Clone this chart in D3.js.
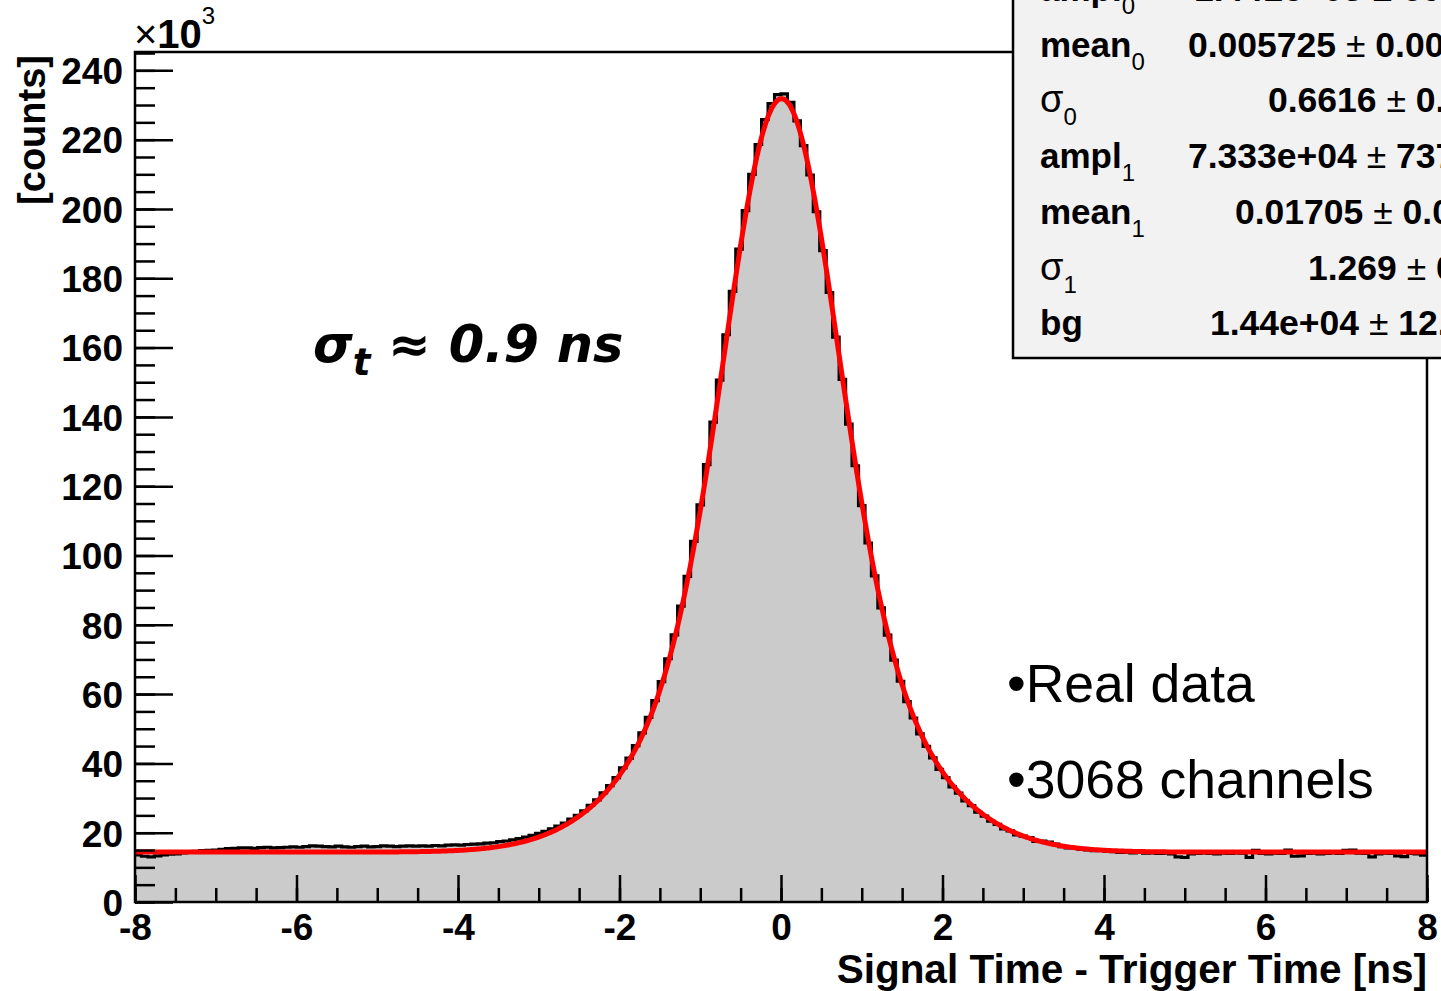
<!DOCTYPE html>
<html>
<head>
<meta charset="utf-8">
<script src="https://cdn.jsdelivr.net/npm/d3@7"></script>
<style>
  body { margin: 0; background: #fff; }
  svg { display: block; }
</style>
</head>
<body>
<script>
var w = 1441;
var h = 991;

// histogram: 200 bins from -8 to 8 ns, counts in units of 10^3
var xMin = -8, xMax = 8;
var counts = [
  13.6, 13.2, 13.0, 13.3, 13.6, 13.8, 13.9, 14.2, 14.4, 14.6,
  14.8, 14.9, 15.0, 15.2, 15.4, 15.5, 15.6, 15.6, 15.5, 15.7,
  15.8, 15.6, 15.7, 15.8, 15.9, 15.8, 16.0, 16.2, 16.1, 16.0,
  15.9, 16.1, 15.9, 15.8, 16.0, 16.1, 15.9, 16.0, 16.2, 16.1,
  16.0, 16.1, 16.2, 16.1, 16.2, 16.1, 16.3, 16.2, 16.4, 16.5,
  16.4, 16.6, 16.7, 16.8, 17.0, 17.1, 17.4, 17.6, 17.9, 18.3,
  18.7, 19.2, 19.8, 20.4, 21.1, 21.9, 22.8, 23.9, 25.0, 26.3,
  27.9, 29.5, 31.5, 33.6, 35.9, 38.7, 41.5, 45.1, 48.8, 53.3,
  58.1, 63.6, 70.2, 77.1, 85.4, 94.0, 104.1, 114.6, 126.2, 138.5,
  150.6, 163.7, 176.2, 188.4, 199.5, 210.0, 218.6, 225.8, 230.4, 233.0,
  233.2, 230.8, 225.4, 218.3, 209.8, 199.2, 188.0, 175.9, 163.0, 150.8,
  137.9, 125.9, 114.4, 103.6, 94.1, 84.9, 77.0, 69.8, 63.7, 57.8,
  53.1, 48.5, 44.9, 41.6, 38.3, 35.9, 33.2, 31.4, 29.2, 27.8,
  25.9, 24.8, 23.3, 22.4, 21.1, 20.5, 19.4, 19.0, 18.6, 17.5,
  17.6, 17.3, 16.7, 16.0, 15.6, 15.7, 15.2, 15.0, 14.8, 14.9,
  14.6, 14.5, 14.3, 14.4, 14.2, 14.3, 14.1, 14.2, 14.0, 14.1,
  13.9, 13.0, 12.9, 13.9, 14.0, 14.2, 14.0, 13.9, 14.1, 14.0,
  14.2, 14.1, 12.9, 14.9, 14.0, 13.9, 14.1, 14.0, 15.0, 13.2,
  13.3, 14.0, 14.1, 13.9, 14.0, 14.2, 14.0, 14.9, 15.0, 14.1,
  14.0, 13.0, 13.9, 14.1, 14.0, 13.3, 13.1, 14.0, 13.9, 13.5
];

// fit parameters from the stats box (amplitudes in 10^3)
var fitAmpl = [144.1, 73.33];
var fitMean = [0.005725, 0.01705];
var fitSigma = [0.6616, 1.269];
var fitBg = 14.4;

var xTicks = [-8, -6, -4, -2, 0, 2, 4, 6, 8];
var yTicks = [0, 20, 40, 60, 80, 100, 120, 140, 160, 180, 200, 220, 240];

var statNames = ["ampl", "mean", "\u03c3", "ampl", "mean", "\u03c3", "bg"];
var statSubs = ["0", "0", "0", "1", "1", "1", ""];
var statVals = ["1.441e+05", "0.005725", "0.6616", "7.333e+04", "0.01705", "1.269", "1.44e+04"];
var statErrs = ["692", "0.00093", "0.0021", "737", "0.0037", "0.004", "12.5"];

// layout
var pL = 135, pR = 1427, pT = 52, pB = 902;
var statX = [1194, 1188, 1268, 1188, 1235, 1308, 1210];

var svg = d3.select("body").append("svg")
  .attr("width", w)
  .attr("height", h);

var xScale = d3.scaleLinear().domain([xMin, xMax]).range([pL, pR]);
var yScale = d3.scaleLinear().domain([0, 245.3]).range([pB, pT]);

var nb = counts.length;
var bw = (xMax - xMin) / nb;
var stepPts = [];
counts.forEach(function(v, i) {
  stepPts.push([xMin + i * bw, v]);
  stepPts.push([xMin + (i + 1) * bw, v]);
});

var plot = svg.append("g");

// gray fill
plot.append("path")
  .datum(stepPts)
  .attr("fill", "#cbcbcb")
  .attr("d", d3.area()
    .x(function(d) { return xScale(d[0]); })
    .y0(yScale(0))
    .y1(function(d) { return yScale(d[1]); }));

// black step outline
plot.append("path")
  .datum(stepPts)
  .attr("fill", "none")
  .attr("stroke", "#000")
  .attr("stroke-width", 3.2)
  .attr("d", d3.line()
    .x(function(d) { return xScale(d[0]); })
    .y(function(d) { return yScale(d[1]); }));

// red fit curve
function fitFn(x) {
  var s = fitBg;
  for (var j = 0; j < 2; j++) {
    var z = (x - fitMean[j]) / fitSigma[j];
    s += fitAmpl[j] * Math.exp(-0.5 * z * z);
  }
  return s;
}
var fitX = d3.range(xMin, xMax + 0.001, 0.02);
plot.append("path")
  .datum(fitX)
  .attr("fill", "none")
  .attr("stroke", "#ff0000")
  .attr("stroke-width", 5)
  .attr("stroke-linejoin", "round")
  .attr("d", d3.line()
    .x(function(d) { return xScale(d); })
    .y(function(d) { return yScale(fitFn(d)); }));

// axes (ticks inside the frame, like ROOT)
var fontMain = "'Liberation Sans', Arial, Helvetica, sans-serif";
var plain = function(d) { return String(d); };

var yMinor = d3.range(0, 245.1, 5);
svg.append("g")
  .attr("transform", "translate(" + pL + ",0)")
  .call(d3.axisLeft(yScale).tickValues(yMinor).tickSize(-20).tickFormat(""))
  .call(function(g) { g.select(".domain").remove(); g.selectAll("line").attr("stroke-width", 2.5); });
svg.append("g")
  .attr("transform", "translate(" + pL + ",0)")
  .call(d3.axisLeft(yScale).tickValues(yTicks).tickSize(-38).tickPadding(12).tickFormat(plain))
  .call(function(g) {
    g.select(".domain").remove();
    g.selectAll("line").attr("stroke-width", 2.5);
    g.selectAll("text")
      .attr("font-family", fontMain)
      .attr("font-weight", "bold")
      .attr("font-size", 37)
      .attr("fill", "#000")
      .attr("dy", "0.36em");
  });

var xMinor = d3.range(xMin, xMax + 0.01, 0.5);
svg.append("g")
  .attr("transform", "translate(0," + pB + ")")
  .call(d3.axisBottom(xScale).tickValues(xMinor).tickSize(-14).tickFormat(""))
  .call(function(g) { g.select(".domain").remove(); g.selectAll("line").attr("stroke-width", 2.5); });
svg.append("g")
  .attr("transform", "translate(0," + pB + ")")
  .call(d3.axisBottom(xScale).tickValues(xTicks).tickSize(-27).tickPadding(12).tickFormat(plain))
  .call(function(g) {
    g.select(".domain").remove();
    g.selectAll("line").attr("stroke-width", 2.5);
    g.selectAll("text")
      .attr("font-family", fontMain)
      .attr("font-weight", "bold")
      .attr("font-size", 37)
      .attr("fill", "#000");
  });

// frame
svg.append("rect")
  .attr("x", pL).attr("y", pT)
  .attr("width", pR - pL).attr("height", pB - pT)
  .attr("fill", "none")
  .attr("stroke", "#000")
  .attr("stroke-width", 2.5);

// x10^3
var expo = svg.append("text")
  .attr("x", pL - 1).attr("y", 48)
  .attr("font-family", fontMain)
  .attr("font-size", 40)
  .attr("fill", "#000");
expo.append("tspan").text("\u00d7");
expo.append("tspan").attr("font-weight", "bold").text("10");
expo.append("tspan").attr("font-size", 24).attr("dy", -24).text("3");

// axis titles
svg.append("text")
  .attr("transform", "translate(45,55) rotate(-90)")
  .attr("text-anchor", "end")
  .attr("font-family", fontMain)
  .attr("font-weight", "bold")
  .attr("font-size", 38)
  .text("[counts]");

svg.append("text")
  .attr("x", pR).attr("y", 983)
  .attr("text-anchor", "end")
  .attr("font-family", fontMain)
  .attr("font-weight", "bold")
  .attr("font-size", 40.5)
  .text("Signal Time - Trigger Time [ns]");

// sigma annotation
var sig = svg.append("text")
  .attr("x", 313).attr("y", 362)
  .attr("font-family", "'DejaVu Sans', sans-serif")
  .attr("font-weight", "bold")
  .attr("font-style", "italic")
  .attr("font-size", 51);
sig.append("tspan").text("\u03c3");
sig.append("tspan").attr("font-size", 37).attr("dy", 13).text("t");
sig.append("tspan").attr("dy", -13).text(" \u2248 0.9 ns");

// legend text
var notes = ["\u2022Real data", "\u20223068 channels"];
svg.selectAll("text.note")
  .data(notes)
  .enter()
  .append("text")
  .attr("class", "note")
  .attr("x", 1007)
  .attr("y", function(d, i) { return 702 + i * 96; })
  .attr("font-family", fontMain)
  .attr("font-size", 53.5)
  .text(function(d) { return d; });

// stats box
svg.append("rect")
  .attr("x", 1013).attr("y", -10)
  .attr("width", 500).attr("height", 368)
  .attr("fill", "#f2f2f2")
  .attr("stroke", "#000")
  .attr("stroke-width", 2.5);

statNames.forEach(function(n, i) {
  var yb = 1 + i * 55.7;
  var t = svg.append("text")
    .attr("x", 1040).attr("y", yb)
    .attr("font-family", fontMain)
    .attr("font-size", 35);
  t.append("tspan").attr("font-weight", n === "\u03c3" ? "normal" : "bold")
    .attr("font-size", n === "\u03c3" ? 38 : 35).text(n);
  if (statSubs[i]) t.append("tspan").attr("font-size", 24).attr("dy", 13).text(statSubs[i]);

  var v = svg.append("text")
    .attr("x", statX[i]).attr("y", yb)
    .attr("font-family", fontMain)
    .attr("font-size", 35.5);
  v.append("tspan").attr("font-weight", "bold").text(statVals[i] + " ");
  v.append("tspan").text("\u00b1");
  v.append("tspan").attr("font-weight", "bold").text(" " + statErrs[i]);
});
</script>
</body>
</html>
